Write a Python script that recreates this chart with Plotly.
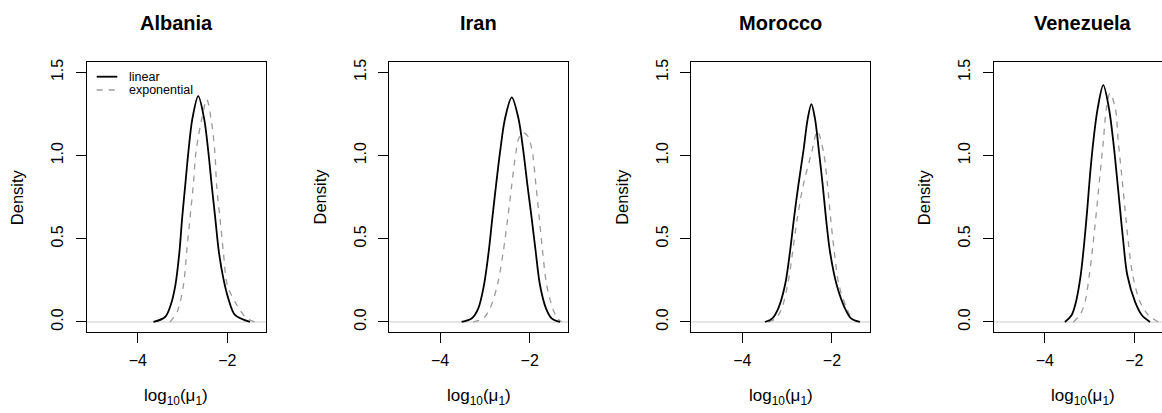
import plotly.graph_objects as go

W, H = 1162, 413
FONT = "Liberation Sans, Arial, Helvetica, sans-serif"

countries = ["Albania", "Iran", "Morocco", "Venezuela"]
series_names = ["linear", "exponential"]

# density curves: (x = log10(mu1), y = density)
albania_linear_x = [-3.65, -3.39, -3.265, -3.16, -3.07, -3.01, -2.94, -2.87, -2.78, -2.65, -2.52, -2.425, -2.35, -2.27, -2.19, -2.09, -1.98, -1.83, -1.495]
albania_linear_y = [0.0, 0.03, 0.102, 0.222, 0.422, 0.623, 0.823, 1.023, 1.223, 1.357, 1.223, 1.023, 0.823, 0.623, 0.422, 0.262, 0.142, 0.042, 0.0]
albania_exp_x = [-3.28, -3.12, -2.98, -2.908, -2.835, -2.76, -2.70, -2.57, -2.46, -2.365, -2.28, -2.24, -2.165, -2.09, -2.0, -1.79, -1.57, -1.38]
albania_exp_y = [0.0, 0.062, 0.222, 0.422, 0.623, 0.823, 1.023, 1.223, 1.337, 1.223, 1.023, 0.823, 0.623, 0.422, 0.222, 0.102, 0.022, 0.0]

iran_linear_x = [-3.52, -3.29, -3.147, -3.02, -2.915, -2.834, -2.75, -2.66, -2.55, -2.40, -2.25, -2.14, -2.05, -1.955, -1.865, -1.77, -1.636, -1.51, -1.323]
iran_linear_y = [0.0, 0.022, 0.082, 0.222, 0.422, 0.623, 0.823, 1.023, 1.223, 1.35, 1.223, 1.023, 0.823, 0.623, 0.422, 0.222, 0.082, 0.022, 0.0]
iran_exp_x = [-3.26, -3.035, -2.885, -2.72, -2.59, -2.49, -2.40, -2.305, -2.25, -2.16, -2.05, -1.99, -1.94, -1.86, -1.785, -1.71, -1.62, -1.486, -1.38, -1.285]
iran_exp_y = [0.0, 0.022, 0.082, 0.222, 0.422, 0.623, 0.823, 1.023, 1.10, 1.137, 1.12, 1.08, 1.023, 0.823, 0.623, 0.422, 0.222, 0.082, 0.022, 0.0]

morocco_linear_x = [-3.495, -3.33, -3.198, -3.048, -2.937, -2.848, -2.75, -2.64, -2.54, -2.46, -2.38, -2.29, -2.207, -2.133, -2.044, -1.894, -1.71, -1.575, -1.374]
morocco_linear_y = [0.0, 0.022, 0.082, 0.222, 0.422, 0.623, 0.823, 1.023, 1.223, 1.309, 1.223, 1.023, 0.823, 0.623, 0.422, 0.222, 0.082, 0.022, 0.0]
morocco_exp_x = [-3.42, -3.25, -3.12, -2.99, -2.877, -2.774, -2.64, -2.45, -2.327, -2.19, -2.10, -2.03, -1.948, -1.843, -1.67, -1.56, -1.41]
morocco_exp_y = [0.0, 0.022, 0.082, 0.222, 0.422, 0.623, 0.823, 1.023, 1.147, 1.023, 0.823, 0.623, 0.422, 0.222, 0.082, 0.022, 0.0]

venezuela_linear_x = [-3.55, -3.40, -3.303, -3.198, -3.117, -3.05, -2.99, -2.917, -2.819, -2.694, -2.567, -2.47, -2.394, -2.321, -2.247, -2.158, -1.986, -1.836, -1.65]
venezuela_linear_y = [0.0, 0.042, 0.122, 0.282, 0.482, 0.683, 0.883, 1.083, 1.283, 1.423, 1.283, 1.083, 0.883, 0.683, 0.482, 0.282, 0.122, 0.042, 0.0]
venezuela_exp_x = [-3.363, -3.214, -3.10, -3.006, -2.917, -2.84, -2.767, -2.694, -2.625, -2.544, -2.424, -2.359, -2.283, -2.21, -2.136, -2.037, -1.875, -1.69, -1.466]
venezuela_exp_y = [0.0, 0.042, 0.122, 0.282, 0.482, 0.683, 0.883, 1.083, 1.283, 1.375, 1.283, 1.083, 0.883, 0.683, 0.482, 0.282, 0.122, 0.042, 0.0]

linear_x = [albania_linear_x, iran_linear_x, morocco_linear_x, venezuela_linear_x]
linear_y = [albania_linear_y, iran_linear_y, morocco_linear_y, venezuela_linear_y]
exp_x = [albania_exp_x, iran_exp_x, morocco_exp_x, venezuela_exp_x]
exp_y = [albania_exp_y, iran_exp_y, morocco_exp_y, venezuela_exp_y]

x_tick_vals = [-4, -2]
x_tick_text = ["\u22124", "\u22122"]
y_tick_vals = [0, 0.5, 1.0, 1.5]
y_tick_text = ["0.0", "0.5", "1.0", "1.5"]

# ---- layout geometry (pixels) ----
panel_left = [86.7, 389.0, 691.3, 993.7]
panel_w = 179.0
plot_top, plot_bot = 61.7, 332.3
px_per_unit = 44.8
x0 = -5.14
y_range = [-0.062, 1.564]

fig = go.Figure()
layout = dict(
    template="none",
    width=W, height=H, margin=dict(l=0, r=0, t=0, b=0, pad=0),
    paper_bgcolor="white", plot_bgcolor="white", showlegend=False,
    font=dict(family=FONT, color="black", size=14),
)
annotations = []
shapes = []

for i, c in enumerate(countries):
    k = "" if i == 0 else str(i + 1)
    left = panel_left[i]
    right = min(left + panel_w, W)
    xr = [x0, x0 + (right - left) / px_per_unit]
    xa = dict(
        domain=[left / W, right / W], range=xr, anchor="y" + k, automargin=False,
        showline=True, linecolor="black", linewidth=1.2, mirror=True,
        ticks="outside", ticklen=10, tickwidth=1.2, tickcolor="black",
        tickvals=x_tick_vals, ticktext=x_tick_text, showgrid=False, zeroline=False,
        tickfont=dict(size=16, family=FONT), ticklabelstandoff=3,
    )
    ya = dict(
        domain=[(H - plot_bot) / H, (H - plot_top) / H], range=y_range, anchor="x" + k, automargin=False,
        showline=True, linecolor="black", linewidth=1.2, mirror=(i < 3),
        ticks="outside", ticklen=10, tickwidth=1.2, tickcolor="black",
        tickvals=y_tick_vals, ticktext=y_tick_text, tickangle=-90, showgrid=False, zeroline=False,
        tickfont=dict(size=16, family=FONT), ticklabelstandoff=6,
    )
    layout["xaxis" + k] = xa
    layout["yaxis" + k] = ya

    # baseline at zero
    shapes.append(dict(type="line", xref="x" + k + " domain", yref="y" + k, x0=0, x1=1, y0=0, y1=0,
                       line=dict(color="#cccccc", width=1.2), layer="below"))

    fig.add_trace(go.Scatter(x=exp_x[i], y=exp_y[i], mode="lines", name=series_names[1],
                             xaxis="x" + k, yaxis="y" + k, line=dict(color="#9a9a9a", width=1.3, dash="6px,6px", shape="spline", smoothing=0.9)))
    fig.add_trace(go.Scatter(x=linear_x[i], y=linear_y[i], mode="lines", name=series_names[0],
                             xaxis="x" + k, yaxis="y" + k, line=dict(color="black", width=1.8, shape="spline", smoothing=0.9)))

    cx = (left + panel_w / 2) / W
    annotations.append(dict(text="<b>" + c + "</b>", x=cx, y=(H - 23) / H, xref="paper", yref="paper",
                            showarrow=False, xanchor="center", yanchor="middle", font=dict(size=20, family=FONT)))
    annotations.append(dict(text="log<sub>10</sub>(\u03bc<sub>1</sub>)", x=cx, y=(H - 397) / H, xref="paper", yref="paper",
                            showarrow=False, xanchor="center", yanchor="middle", font=dict(size=17, family=FONT)))
    annotations.append(dict(text="Density", x=(left - 69.5) / W, y=(H - 197) / H, xref="paper", yref="paper",
                            textangle=-90, showarrow=False, xanchor="center", yanchor="middle", font=dict(size=16.5, family=FONT)))

# legend (panel 1, top-left)
leg_y = [76.7, 90.0]
leg_styles = [dict(color="black", width=1.8), dict(color="#9a9a9a", width=1.3, dash="6px,6px")]
for j, name in enumerate(series_names):
    shapes.append(dict(type="line", xref="paper", yref="paper", x0=96.7 / W, x1=117.3 / W,
                       y0=(H - leg_y[j]) / H, y1=(H - leg_y[j]) / H, line=leg_styles[j]))
    annotations.append(dict(text=name, x=127 / W, y=(H - leg_y[j]) / H, xref="paper", yref="paper",
                            showarrow=False, xanchor="left", yanchor="middle", font=dict(size=12.5, family=FONT)))

layout["annotations"] = annotations
layout["shapes"] = shapes
fig.update_layout(**layout)
fig.write_html("out.html", config={"displayModeBar": False},
               post_script="document.body.style.margin='0';document.body.style.overflow='hidden';")
